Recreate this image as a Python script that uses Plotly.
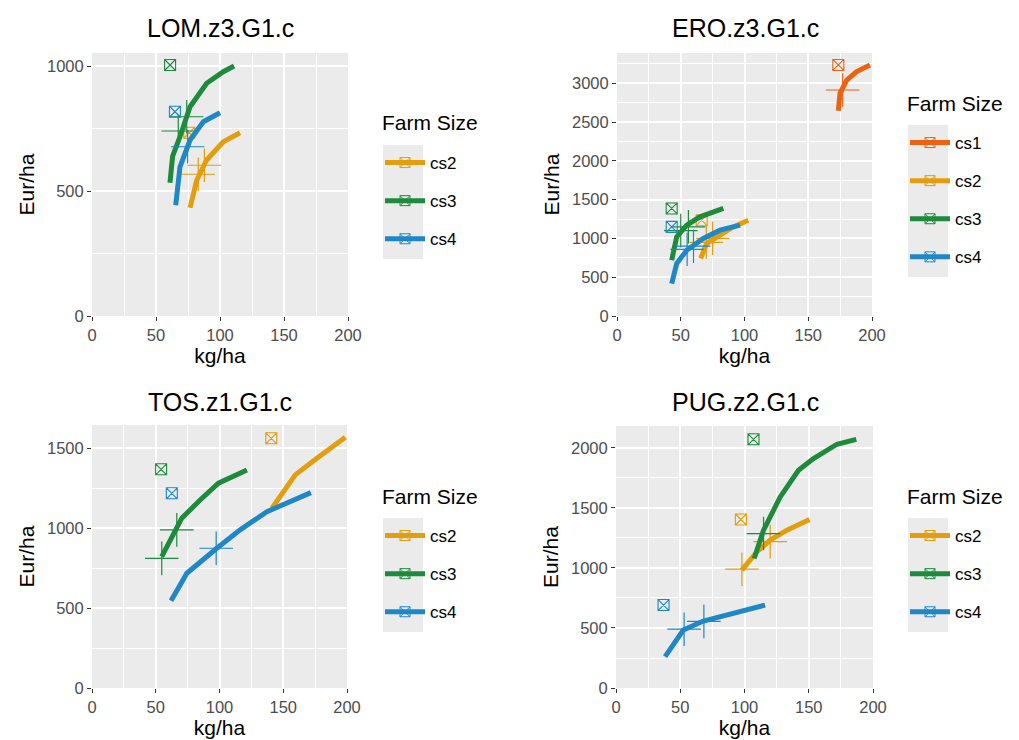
import plotly.graph_objects as go

# ---------------- data ----------------
titles = ["LOM.z3.G1.c", "ERO.z3.G1.c", "TOS.z1.G1.c", "PUG.z2.G1.c"]
colors = {"cs1": "#EB6312", "cs2": "#E29E0C", "cs3": "#1E8A3C", "cs4": "#1F87C6"}

# LOM
lom_cs2_x = [76.6, 81.8, 89.6, 102.6, 115.6]
lom_cs2_y = [433, 543, 624, 697, 733]
lom_cs3_x = [60.9, 63.0, 68.75, 76.6, 89.6, 102.6, 111]
lom_cs3_y = [533, 640, 717, 837, 931, 977, 1000]
lom_cs4_x = [65.4, 68.75, 76.6, 87, 100]
lom_cs4_y = [443, 597, 704, 777, 813]
lom_cross = {"cs2": ([87.8, 83.0], [603, 567]), "cs3": ([74.0, 67.4], [797, 740]), "cs4": ([74.7], [677])}
lom_square = {"cs2": ([76.0], [733]), "cs3": ([61.0], [1004]), "cs4": ([64.8], [817])}

# ERO
ero_cs1_x = [173.6, 174.9, 180.2, 188, 198.4]
ero_cs1_y = [2647, 2871, 3042, 3150, 3236]
ero_cs2_x = [65.6, 70.3, 80.8, 91.2, 103]
ero_cs2_y = [741, 934, 1042, 1149, 1235]
ero_cs3_x = [42.9, 46.8, 54.7, 65.1, 83.4]
ero_cs3_y = [719, 1020, 1171, 1278, 1386]
ero_cs4_x = [42.9, 46.8, 54.7, 67.7, 80.8, 96.5]
ero_cs4_y = [418, 676, 848, 999, 1106, 1171]
ero_cross = {"cs1": ([177.0], [2913]), "cs2": ([70.0, 75.0], [950, 1000]),
             "cs3": ([50.0, 56.0], [1100, 1150]), "cs4": ([55.0, 60.0], [860, 900])}
ero_square = {"cs1": ([173.6], [3236]), "cs2": ([66.4], [1235]),
              "cs3": ([42.9], [1386]), "cs4": ([42.9], [1149])}

# TOS
tos_cs2_x = [141.1, 159.4, 176.4, 198.7]
tos_cs2_y = [1124, 1333, 1437, 1569]
tos_cs3_x = [54.7, 67.8, 70.4, 84.8, 99.2, 121.5]
tos_cs3_y = [822, 1009, 1062, 1176, 1281, 1364]
tos_cs4_x = [62, 74.4, 97.9, 116.2, 137.2, 155.5, 171.7]
tos_cs4_y = [546, 718, 874, 989, 1103, 1166, 1222]
tos_cross = {"cs2": ([], []), "cs3": ([54.7, 66.5], [811, 989]), "cs4": ([97.4], [874])}
tos_square = {"cs2": ([140.6], [1562]), "cs3": ([54.2], [1368]), "cs4": ([62.6], [1218])}

# PUG
pug_cs2_x = [97.9, 109.6, 120, 133, 150.6]
pug_cs2_y = [982, 1134, 1232, 1315, 1404]
pug_cs3_x = [107.5, 114.8, 127.8, 142, 153.7, 171.9, 187]
pug_cs3_y = [1079, 1315, 1592, 1814, 1912, 2031, 2072]
pug_cs4_x = [38.2, 52.4, 68, 91.4, 116]
pug_cs4_y = [261, 483, 558, 619, 691]
pug_cross = {"cs2": ([98.0, 120.0], [990, 1220]), "cs3": ([114.8], [1287]), "cs4": ([53.0, 68.4], [490, 555])}
pug_square = {"cs2": ([97.2], [1404]), "cs3": ([107.0], [2072]), "cs4": ([37.0], [691])}

panels = [
    {"lines": {"cs2": (lom_cs2_x, lom_cs2_y), "cs3": (lom_cs3_x, lom_cs3_y), "cs4": (lom_cs4_x, lom_cs4_y)},
     "cross": lom_cross, "square": lom_square, "yr": [0, 1052]},
    {"lines": {"cs1": (ero_cs1_x, ero_cs1_y), "cs2": (ero_cs2_x, ero_cs2_y), "cs3": (ero_cs3_x, ero_cs3_y),
               "cs4": (ero_cs4_x, ero_cs4_y)},
     "cross": ero_cross, "square": ero_square, "yr": [0, 3390]},
    {"lines": {"cs2": (tos_cs2_x, tos_cs2_y), "cs3": (tos_cs3_x, tos_cs3_y), "cs4": (tos_cs4_x, tos_cs4_y)},
     "cross": tos_cross, "square": tos_square, "yr": [0, 1645]},
    {"lines": {"cs2": (pug_cs2_x, pug_cs2_y), "cs3": (pug_cs3_x, pug_cs3_y), "cs4": (pug_cs4_x, pug_cs4_y)},
     "cross": pug_cross, "square": pug_square, "yr": [0, 2183]},
]

# ---------------- layout geometry ----------------
W, H = 1019, 740
OFF = 8  # page body margin compensation


def fx(px):
    return (px - OFF) / W


def fy(py):
    return 1 - (py - OFF) / H


px_dom = [(92, 348), (617, 872), (92, 347), (616, 873)]
py_dom = [(53, 316), (53, 316), (425, 688), (426, 688)]
legend_pos = [(380, 145), (905, 125), (380, 518), (905, 518)]   # top-left of entries
legend_title_pos = [(380, 123), (905, 103), (380, 496), (905, 496)]
title_pos = [(220, 28), (745, 28), (220, 402), (745, 402)]
ENTRY = 38

fig = go.Figure()
FONT = "Liberation Sans, Arial, sans-serif"

for i, p in enumerate(panels):
    n = i + 1
    xa = "x" if n == 1 else f"x{n}"
    ya = "y" if n == 1 else f"y{n}"
    leg = "legend" if n == 1 else f"legend{n}"
    for name, (lx, ly) in p["lines"].items():
        c = colors[name]
        fig.add_trace(go.Scatter(x=lx, y=ly, mode="lines", line=dict(color=c, width=5),
                                 xaxis=xa, yaxis=ya, showlegend=False, hoverinfo="skip"))
        cx, cy = p["cross"][name]
        if cx:
            fig.add_trace(go.Scatter(x=cx, y=cy, mode="markers",
                                     marker=dict(symbol="cross-thin-open", size=24, color=c,
                                                 line=dict(color=c, width=1.2)),
                                     xaxis=xa, yaxis=ya, showlegend=False))
        sx, sy = p["square"][name]
        fig.add_trace(go.Scatter(x=sx, y=sy, mode="markers",
                                 marker=dict(symbol="square-x-open", size=11, color=c,
                                             line=dict(color=c, width=1.1)),
                                 xaxis=xa, yaxis=ya, showlegend=False))
        # legend entry
        fig.add_trace(go.Scatter(x=[None], y=[None], mode="lines+markers", name=name,
                                 line=dict(color=c, width=5),
                                 marker=dict(symbol="square-x-open", size=10, color=c,
                                             line=dict(color=c, width=1)),
                                 xaxis=xa, yaxis=ya, legend=leg, legendgroup=f"{n}{name}",
                                 showlegend=True))

layout = dict(width=W, height=H, margin=dict(l=0, r=0, t=0, b=0, autoexpand=False),
              paper_bgcolor="white", plot_bgcolor="#EBEBEB",
              font=dict(family=FONT, color="#000000"), showlegend=True)

shapes = []
annotations = []
for i, p in enumerate(panels):
    n = i + 1
    sfx = "" if n == 1 else str(n)
    x0, x1 = px_dom[i]
    y0, y1 = py_dom[i]
    common = dict(showline=False, zeroline=False, ticks="outside", ticklen=4, tickwidth=1.1,
                  tickcolor="#333333", tickfont=dict(size=16.5, color="#4D4D4D", family=FONT),
                  gridcolor="white", gridwidth=1.5, automargin=False)
    layout["xaxis" + sfx] = dict(domain=[fx(x0), fx(x1)], range=[0, 200], dtick=50, tick0=0,
                                 anchor="y" + sfx,
                                 title=dict(text="kg/ha", font=dict(size=21, family=FONT), standoff=3),
                                 minor=dict(showgrid=True, gridcolor="white", gridwidth=0.7, dtick=25, tick0=0),
                                 **common)
    layout["yaxis" + sfx] = dict(domain=[fy(y1), fy(y0)], range=p["yr"], dtick=500, tick0=0,
                                 anchor="x" + sfx,
                                 title=dict(text="Eur/ha", font=dict(size=21, family=FONT), standoff=6),
                                 minor=dict(showgrid=True, gridcolor="white", gridwidth=0.7, dtick=250, tick0=0),
                                 **common)
    lx, ly = legend_pos[i]
    nitems = len(p["lines"])
    layout["legend" + sfx] = dict(x=fx(lx), y=fy(ly), xanchor="left", yanchor="top",
                                  bgcolor="rgba(0,0,0,0)", tracegroupgap=13, itemwidth=40,
                                  font=dict(size=17, family=FONT))
    # grey key background (ggplot legend.key)
    shapes.append(dict(type="rect", xref="paper", yref="paper", layer="below",
                       x0=fx(lx + 3), x1=fx(lx + 43),
                       y0=fy(ly + nitems * ENTRY), y1=fy(ly),
                       fillcolor="#EBEBEB", line=dict(width=0)))
    tx, ty = legend_title_pos[i]
    annotations.append(dict(text="Farm Size", x=fx(tx), y=fy(ty), xref="paper", yref="paper",
                            showarrow=False, font=dict(size=21, family=FONT), xanchor="left",
                            yanchor="middle"))
    tx, ty = title_pos[i]
    annotations.append(dict(text=titles[i], x=fx(tx), y=fy(ty), xref="paper", yref="paper",
                            showarrow=False, font=dict(size=25, family=FONT), xanchor="center",
                            yanchor="middle"))

layout["annotations"] = annotations
layout["shapes"] = shapes
fig.update_layout(**layout)
fig.write_html("out.html")
